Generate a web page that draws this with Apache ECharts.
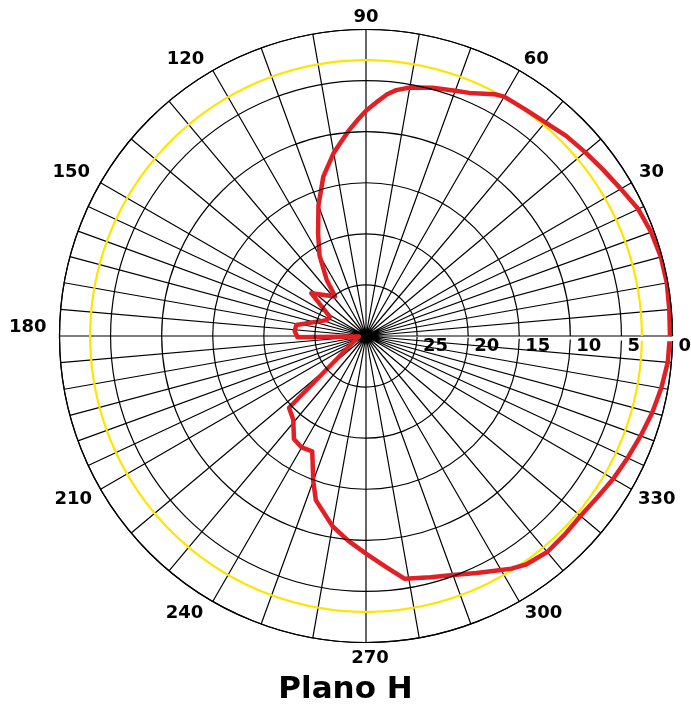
<!DOCTYPE html>
<html>
<head>
<meta charset="utf-8">
<script src="https://cdn.jsdelivr.net/npm/echarts@6/dist/echarts.min.js"></script>
<style>
html,body{margin:0;padding:0;background:#ffffff;}
#chart{width:691px;height:704px;}
</style>
</head>
<body>
<div id="chart"></div>
<script>
// Angle categories: one per degree (0..359)
const angleCategories = [];
for (let a = 0; a < 360; a++) angleCategories.push(String(a));

// Radiation pattern (H plane): angle in degrees, relative level in dB
const patternAngles = [0, 5, 10, 15, 20, 25, 30, 35, 40, 45, 50, 55, 60, 62, 65, 67, 70, 75, 80, 83,
  85, 87, 90, 92, 95, 98, 100, 105, 110, 115, 120, 125, 128, 142, 152, 158, 171, 176, 181, 184,
  223, 229, 235, 240, 245, 250, 253, 260, 265, 270, 275, 279, 285, 290, 295, 300, 302, 305, 310,
  315, 320, 325, 330, 335, 340, 345, 350, 355];
const patternDb = [-0.25, -0.2, -0.1, -0.12, -0.3, -0.6, -1.2, -1.65, -2.0, -2.3, -2.7, -2.9, -2.95,
  -3.2, -3.8, -4.15, -4.45, -4.85, -5.3, -5.75, -6.25, -6.95, -7.95, -8.75, -9.9, -11.1, -11.8,
  -13.85, -16.4, -18.9, -20.9, -23.3, -25.1, -23.2, -26.0, -25.85, -23.1, -23.0, -23.3, -29.3,
  -19.7, -19.15, -17.7, -17.4, -17.55, -14.9, -13.2, -11.1, -9.9, -8.7, -7.3, -5.95, -5.55, -5.1,
  -4.4, -3.55, -3.15, -2.7, -2.4, -2.5, -2.6, -2.4, -2.05, -1.75, -1.4, -1.0, -0.65, -0.35];

// Reference level (half-power circle)
const halfPowerDb = -3;

// Radius axis range (dB)
const radiusMin = -30, radiusMax = 0, radiusStep = 5;
// Angle labels shown every 30 degrees (0 omitted, it coincides with radius label)
const angleLabelStep = 30;

function spokeShown(i) {
  if (i % 10 === 0) return true;
  if (i % 5 !== 0) return false;
  return i <= 30 || i >= 330 || (i >= 150 && i <= 210);
}

const patternData = patternAngles.map((a, i) => [patternDb[i], a]);
patternData.push([patternDb[0], patternAngles[0]]);

const refData = [];
for (let a = 0; a < 360; a++) refData.push([halfPowerDb, a]);
refData.push([halfPowerDb, 0]);

const FONT = 'DejaVu Sans';
const labelFont = {fontFamily: FONT, fontWeight: 'bold', fontSize: 18, color: '#000'};
// per-label nudges (style only)
const labelPad = {
  30: [0, 0, 0, 5], 60: [0, 0, 0, 3], 90: [0, 0, 0, 0], 120: [0, 7, 0, 0], 150: [0, 8, 0, 0],
  180: [0, 10, 18, 0], 210: [0, 6, 0, 0], 240: [0, 8, 0, 0], 270: [4, 0, 0, 8],
  300: [0, 0, 0, 4], 330: [0, 0, 0, 4]
};
const rich = {};
Object.keys(labelPad).forEach(k => { rich['a' + k] = Object.assign({padding: labelPad[k]}, labelFont); });

const chart = echarts.init(document.getElementById('chart'), null, {renderer: 'canvas'});
chart.setOption({
  backgroundColor: '#ffffff',
  animation: false,
  title: {
    text: 'Plano H',
    left: 'center',
    top: 674,
    padding: 0,
    textStyle: {fontFamily: FONT, fontWeight: 'bold', fontSize: 31, color: '#000'}
  },
  polar: {center: [366, 336], radius: 306.5},
  angleAxis: {
    type: 'category',
    data: angleCategories,
    startAngle: 0,
    clockwise: false,
    boundaryGap: false,
    axisLine: {show: true, lineStyle: {color: '#000', width: 1.2}},
    axisTick: {show: false, interval: (i) => spokeShown(i)},
    axisLabel: Object.assign({
      interval: (i) => i % angleLabelStep === 0 && i !== 0,
      margin: 3,
      formatter: (v) => '{a' + v + '|' + v + '}',
      rich: rich
    }, labelFont),
    splitLine: {show: true, interval: (i) => spokeShown(i), lineStyle: {color: '#000', width: 1.2}}
  },
  radiusAxis: {
    type: 'value',
    min: radiusMin,
    max: radiusMax,
    interval: radiusStep,
    axisLine: {show: false},
    axisTick: {show: false},
    axisLabel: Object.assign({
      formatter: (v) => v === radiusMin ? '' : String(Math.abs(v)),
      align: 'left',
      verticalAlign: 'top',
      margin: -1,
      padding: [0, 0, 0, 6]
    }, labelFont),
    splitLine: {show: true, lineStyle: {color: '#000', width: 1.2}},
    z: 10
  },
  series: [
    {
      name: 'ref',
      type: 'line',
      coordinateSystem: 'polar',
      data: refData,
      symbol: 'none',
      silent: true,
      lineStyle: {color: '#ffe400', width: 2.2}
    },
    {
      name: 'Plano H',
      type: 'line',
      coordinateSystem: 'polar',
      data: patternData,
      symbol: 'none',
      lineStyle: {color: '#e31f26', width: 4.5, join: 'round'}
    }
  ]
});
</script>
</body>
</html>
